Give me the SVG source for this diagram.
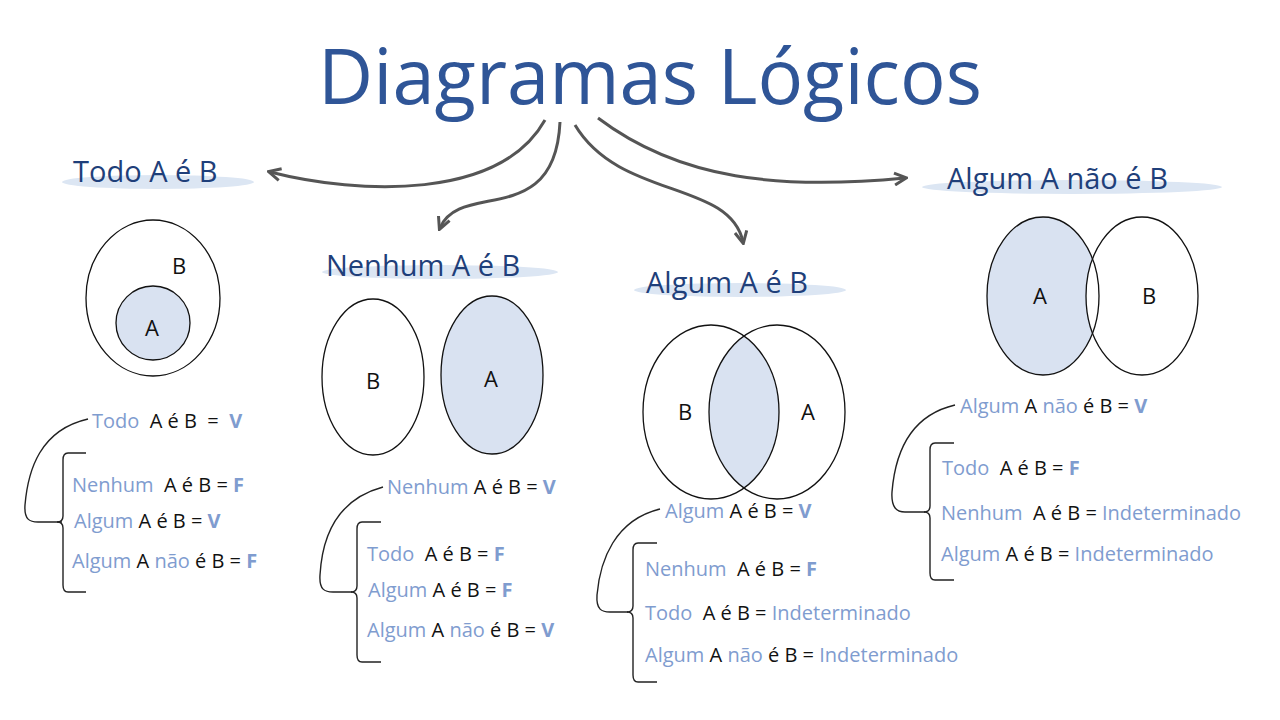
<svg xmlns="http://www.w3.org/2000/svg" width="1280" height="720" viewBox="0 0 1280 720">
<style>
text{font-family:"Open Sans","DejaVu Sans",sans-serif;white-space:pre}
.t{font-size:76px;fill:#2f5597}
.h{font-size:29px;fill:#1f3f7a}
.hl{fill:#dce6f3}
.b{font-size:20px;fill:#111}
.l{fill:#7f9ccf}
.v{fill:#7f9ccf;font-weight:bold}
.o{fill:none;stroke:#111;stroke-width:1.3}
.f{fill:#d9e2f1}
.br{fill:none;stroke:#222;stroke-width:1.4}
.c{fill:none;stroke:#555;stroke-width:3}
.lab{font-size:22px;fill:#111}
</style>
<defs>
<marker id="ar" viewBox="0 0 10 10" refX="8" refY="5" markerWidth="5" markerHeight="5" orient="auto"><path d="M1,1 L9,5 L1,9" fill="none" stroke="#555" stroke-width="2"/></marker>
<clipPath id="c3"><ellipse cx="711" cy="412" rx="68" ry="87"/></clipPath>
</defs>
<rect width="1280" height="720" fill="#fff"/>
<text class="t" x="650" y="104" text-anchor="middle">Diagramas Lógicos</text>
<g id="connectors">
<path class="c" marker-end="url(#ar)" d="M545,120 C500,200 360,195 270,172"/>
<path class="c" marker-end="url(#ar)" d="M560,122 C555,230 460,180 440,228"/>
<path class="c" marker-end="url(#ar)" d="M575,125 C620,200 730,180 743,242"/>
<path class="c" marker-end="url(#ar)" d="M598,118 C680,180 780,190 905,178"/>
</g>
<g id="todo">
<ellipse class="hl" cx="158" cy="182" rx="96" ry="7"/>
<text class="h" x="73" y="182">Todo A é B</text>
<ellipse class="o" cx="153" cy="298" rx="67" ry="78"/>
<circle class="f" cx="153" cy="323" r="37" stroke="#111" stroke-width="1.3"/>
<text class="lab" x="179" y="274" text-anchor="middle">B</text>
<text class="lab" x="152" y="336" text-anchor="middle">A</text>
<text class="b" x="92" y="428"><tspan class="l">Todo</tspan>  A é B  =  <tspan class="v">V</tspan></text>
<path class="br" d="M88,419 C40,430 28,470 25,505 C24,520 30,522 38,522 L62,522"/>
<path class="br" d="M86,453 L68,453 Q63,453 63,460 L63,516 Q63,522 57,522 Q63,522 63,528 L63,585 Q63,592 68,592 L86,592"/>
<text class="b" x="72" y="492"><tspan class="l">Nenhum</tspan>  A é B = <tspan class="v">F</tspan></text>
<text class="b" x="74" y="528"><tspan class="l">Algum</tspan> A é B = <tspan class="v">V</tspan></text>
<text class="b" x="72" y="568"><tspan class="l">Algum</tspan> A <tspan class="l">não</tspan> é B = <tspan class="v">F</tspan></text>
</g>
<g id="nenhum">
<ellipse class="hl" cx="440" cy="272" rx="118" ry="7"/>
<text class="h" x="326" y="276">Nenhum A é B</text>
<ellipse class="o" cx="373" cy="377" rx="51" ry="78"/>
<ellipse class="f" cx="492" cy="375" rx="51" ry="79" stroke="#111" stroke-width="1.3"/>
<text class="lab" x="373" y="389" text-anchor="middle">B</text>
<text class="lab" x="491" y="387" text-anchor="middle">A</text>
<text class="b" x="387" y="494"><tspan class="l">Nenhum</tspan> A é B = <tspan class="v">V</tspan></text>
<path class="br" d="M383,487 C335,500 322,540 320,575 C319,590 325,592 333,592 L352,592"/>
<path class="br" d="M381,522 L362,522 Q357,522 357,529 L357,586 Q357,592 351,592 Q357,592 357,598 L357,655 Q357,662 362,662 L381,662"/>
<text class="b" x="367" y="561"><tspan class="l">Todo</tspan>  A é B = <tspan class="v">F</tspan></text>
<text class="b" x="368" y="597"><tspan class="l">Algum</tspan> A é B = <tspan class="v">F</tspan></text>
<text class="b" x="367" y="637"><tspan class="l">Algum</tspan> A <tspan class="l">não</tspan> é B = <tspan class="v">V</tspan></text>
</g>
<g id="algum">
<ellipse class="hl" cx="740" cy="290" rx="106" ry="7"/>
<text class="h" x="646" y="293">Algum A é B</text>
<ellipse class="f" cx="777" cy="412" rx="68" ry="87" clip-path="url(#c3)"/>
<ellipse class="o" cx="711" cy="412" rx="68" ry="87"/>
<ellipse class="o" cx="777" cy="412" rx="68" ry="87"/>
<text class="lab" x="685" y="420" text-anchor="middle">B</text>
<text class="lab" x="808" y="420" text-anchor="middle">A</text>
<text class="b" x="665" y="518"><tspan class="l">Algum</tspan> A é B = <tspan class="v">V</tspan></text>
<path class="br" d="M660,509 C615,520 600,560 597,595 C596,610 602,612 610,612 L628,612"/>
<path class="br" d="M657,543 L638,543 Q633,543 633,550 L633,606 Q633,612 627,612 Q633,612 633,618 L633,675 Q633,682 638,682 L657,682"/>
<text class="b" x="645" y="576"><tspan class="l">Nenhum</tspan>  A é B = <tspan class="v">F</tspan></text>
<text class="b" x="645" y="620"><tspan class="l">Todo</tspan>  A é B = <tspan class="l">Indeterminado</tspan></text>
<text class="b" x="645" y="662"><tspan class="l">Algum</tspan> A <tspan class="l">não</tspan> é B = <tspan class="l">Indeterminado</tspan></text>
</g>
<g id="algum-nao">
<ellipse class="hl" cx="1072" cy="187" rx="150" ry="7"/>
<text class="h" x="947" y="189">Algum A não é B</text>
<ellipse class="f" cx="1043" cy="296" rx="56" ry="79"/>
<ellipse cx="1142" cy="296" rx="56" ry="79" fill="#fff"/>
<ellipse class="o" cx="1043" cy="296" rx="56" ry="79"/>
<ellipse class="o" cx="1142" cy="296" rx="56" ry="79"/>
<text class="lab" x="1040" y="304" text-anchor="middle">A</text>
<text class="lab" x="1149" y="304" text-anchor="middle">B</text>
<text class="b" x="960" y="413"><tspan class="l">Algum</tspan> A <tspan class="l">não</tspan> é B = <tspan class="v">V</tspan></text>
<path class="br" d="M955,405 C908,416 895,455 892,492 C891,508 897,512 905,512 L925,512"/>
<path class="br" d="M954,443 L935,443 Q930,443 930,450 L930,506 Q930,512 924,512 Q930,512 930,518 L930,573 Q930,580 935,580 L954,580"/>
<text class="b" x="942" y="475"><tspan class="l">Todo</tspan>  A é B = <tspan class="v">F</tspan></text>
<text class="b" x="941" y="520"><tspan class="l">Nenhum</tspan>  A é B = <tspan class="l">Indeterminado</tspan></text>
<text class="b" x="941" y="561"><tspan class="l">Algum</tspan> A é B = <tspan class="l">Indeterminado</tspan></text>
</g>
</svg>
